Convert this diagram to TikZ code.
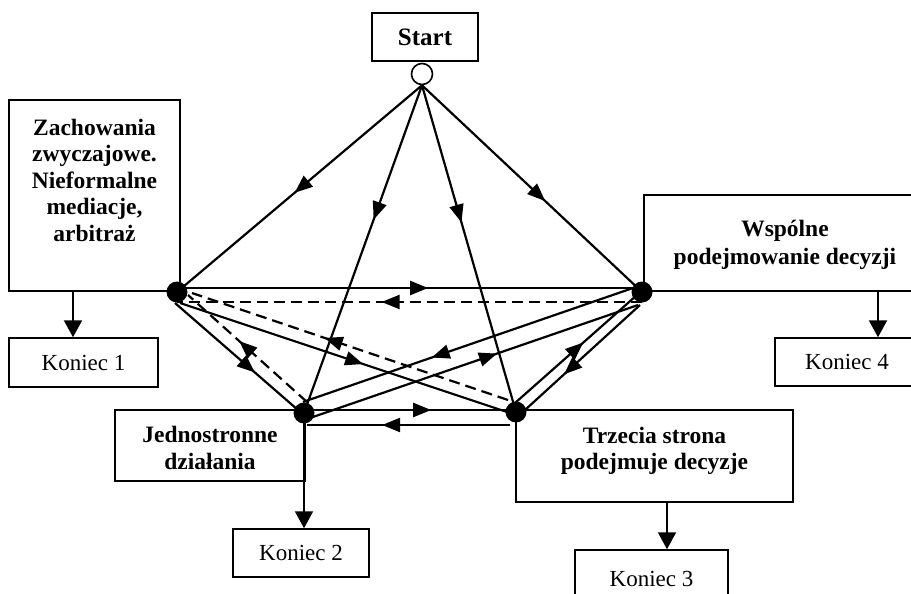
\documentclass[tikz,border=0pt]{standalone}
\usepackage{fontspec}
\setmainfont{Liberation Serif}
\usetikzlibrary{positioning,arrows.meta,decorations.markings}

\begin{document}
\begin{tikzpicture}[x=1pt,y=-1pt,line width=2.2pt,
    marr/.style={postaction={decorate},decoration={markings,
        mark=at position #1 with {\arrow{Triangle[length=18pt,width=14pt]}}}}]
    \tikzstyle{frame}=[rectangle,draw=black,line width=1.8pt,inner sep=0pt]
    \tikzstyle{head}=[align=center,inner sep=0pt,outer sep=0pt,font=\fontsize{23.5}{26.5}\selectfont\bfseries]
    \tikzstyle{koniec}=[rectangle,draw=black,line width=1.5pt,font=\fontsize{23}{27}\selectfont]
    \tikzstyle{dot}=[circle,fill=black,minimum size=21pt,inner sep=0pt]
    \tikzstyle{flow}=[line width=2.2pt]
    \tikzstyle{back}=[dash pattern=on 11pt off 6pt]
    \tikzstyle{exit}=[line width=2.2pt,-{Triangle[length=17pt,width=18pt]}]

    \useasboundingbox (0,0) rectangle (911,594);

    % start
    \node[frame,minimum width=106pt,minimum height=48pt,font=\fontsize{25}{30}\selectfont\bfseries] (S) at (425,37) {Start};
    \node[circle,draw=black,fill=white,line width=1.6pt,minimum size=21pt,inner sep=0pt] (S0) at (422,74) {};

    % boxes
    \node[frame,minimum width=171pt,minimum height=191pt] (B-1) at (94.5,195.5) {};
    \node[frame,minimum width=190pt,minimum height=71pt] (B-2) at (210,445.5) {};
    \node[frame,minimum width=277pt,minimum height=92pt] (B-3) at (654.5,456) {};
    \node[frame,minimum width=282pt,minimum height=96pt] (B-4) at (785,243) {};

    \node[head,below=20pt of B-1.north] (t-1) {Zachowania\\zwyczajowe.\\Nieformalne\\mediacje,\\arbitraż};
    \node[head,below=17.4pt of B-2.north] (t-2) {Jednostronne\\działania};
    \node[head,below=17.8pt of B-3.north] (t-3) {Trzecia strona\\podejmuje decyzje};
    \node[head,below=26pt of B-4.north,font=\fontsize{23.5}{28.5}\selectfont\bfseries] (t-4) {Wspólne\\podejmowanie decyzji};

    % ends
    \foreach \n/\x/\y/\w/\h in {1/83.5/362.5/149/49, 2/301/553/136/48, 3/651.5/579/153/58, 4/847/362/144/48}
        \node[koniec,minimum width=\w pt,minimum height=\h pt] (E-\n) at (\x,\y) {Koniec \n};

    % points
    \foreach \n/\x/\y in {1/177/292, 2/304/413, 3/516/412, 4/642/292}
        \node[dot] (N-\n) at (\x,\y) {};

    % from start
    \foreach \n/\p in {1/0.52, 2/0.41, 3/0.42, 4/0.56}
        \draw[flow,marr=\p] (S0.south) -- (N-\n.center);

    % solid links
    \foreach \a/\ax/\ay/\b/\bx/\by/\p in {1/0/-4/4/0/-4/0.54, 1/-2/11/2/-6/-3/0.65, 1/3/11/3/-3/2/0.55,
            4/-9/-4/2/-1/-11/0.61, 2/6/5/4/-4/13/0.57, 3/-1/-9/4/-5/3/0.56, 4/-2/13/3/9/-2/0.66,
            2/0/-3/3/0/-2/0.6, 3/-6/13/2/3/12/0.63}
        \draw[flow,marr=\p] ([shift={(\ax,\ay)}]N-\a.center) -- ([shift={(\bx,\by)}]N-\b.center);

    % dashed links
    \foreach \a/\ax/\ay/\b/\bx/\by/\p in {4/0/10/1/0/10/0.56, 2/3/-11/1/11/3/0.57, 3/-8/-12/1/15/1/0.58}
        \draw[flow,back,marr=\p] ([shift={(\ax,\ay)}]N-\a.center) -- ([shift={(\bx,\by)}]N-\b.center);

    % to the ends
    \coordinate (k1) at ([xshift=-10.5pt]E-1.north);
    \coordinate (k3) at ([xshift=15.5pt]E-3.north);
    \coordinate (k4) at ([xshift=31pt]E-4.north);
    \draw[exit] (k1 |- B-1.south) -- (k1);
    \draw[exit] (N-2.center) -- (N-2 |- E-2.north);
    \draw[exit] (k3 |- B-3.south) -- (k3);
    \draw[exit] (k4 |- B-4.south) -- (k4);
\end{tikzpicture}
\end{document}
